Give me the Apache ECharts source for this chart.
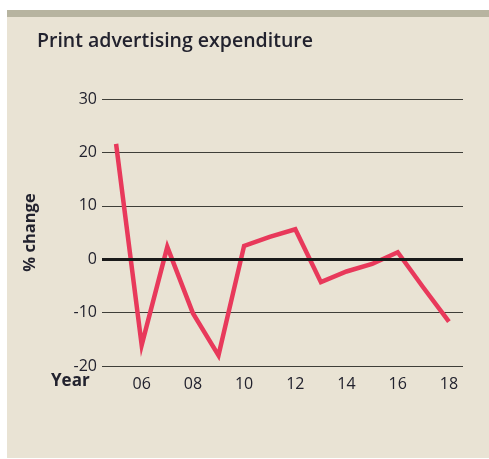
<!DOCTYPE html>
<html>
<head>
<meta charset="utf-8">
<script src="https://cdn.jsdelivr.net/npm/echarts@6/dist/echarts.min.js"></script>
<style>
  html, body { margin: 0; padding: 0; background: #ffffff; }
  #chart { width: 489px; height: 459px; }
</style>
</head>
<body>
<div id="chart"></div>
<script>
// Annual % change in print advertising expenditure
const years = [2005, 2006, 2007, 2008, 2009, 2010, 2011, 2012, 2013, 2014, 2015, 2016, 2017, 2018];
const pctChange = [21.6, -16.1, 2.3, -10.1, -18.0, 2.5, 4.2, 5.6, -4.3, -2.3, -0.9, 1.3, -5.3, -11.7];
const yearTicks = [2006, 2008, 2010, 2012, 2014, 2016, 2018];
const yTicks = { min: -20, max: 30, step: 10 };

const FONT = '"Open Sans", "Noto Sans", sans-serif';
const INK = '#22222e';

const chart = echarts.init(document.getElementById('chart'), null, { renderer: 'canvas' });

chart.setOption({
  animation: false,
  backgroundColor: '#ffffff',
  graphic: [
    { type: 'rect', z: -10, shape: { x: 7, y: 10, width: 482, height: 448 }, style: { fill: '#e9e3d4' } },
    { type: 'rect', z: -9, shape: { x: 7, y: 10, width: 482, height: 7 }, style: { fill: '#b7b4a0' } },
    { type: 'text', left: 37, top: 31, style: { text: 'Print advertising expenditure', font: '600 19.5px ' + FONT, fill: INK } },
    { type: 'text', left: 51, top: 373, style: { text: 'Year', font: 'bold 17px ' + FONT, fill: INK } }
  ],
  grid: { left: 102, right: 26, top: 99, bottom: 93, containLabel: false },
  xAxis: {
    type: 'value',
    min: 2004.45,
    max: 2018.55,
    axisLine: { show: false },
    axisTick: { show: false },
    splitLine: { show: false },
    axisLabel: {
      customValues: yearTicks,
      formatter: v => String(v).slice(2),
      color: INK,
      fontFamily: FONT,
      fontSize: 16,
      fontWeight: 500,
      margin: 10
    }
  },
  yAxis: {
    type: 'value',
    min: yTicks.min,
    max: yTicks.max,
    interval: yTicks.step,
    name: '% change',
    nameLocation: 'middle',
    nameRotate: 90,
    nameGap: 63,
    nameTextStyle: { color: INK, fontFamily: FONT, fontSize: 16.5, fontWeight: 'bold' },
    axisLine: { show: false },
    axisTick: { show: false },
    axisLabel: { color: INK, fontFamily: FONT, fontSize: 16, fontWeight: 500, margin: 5 },
    splitLine: { lineStyle: { color: '#3e3e38', width: 1 } }
  },
  series: [{
    type: 'line',
    data: years.map((y, i) => [y, pctChange[i]]),
    symbol: 'none',
    lineStyle: { color: '#e8395b', width: 4.5, join: 'miter' },
    z: 3,
    markLine: {
      silent: true,
      symbol: 'none',
      label: { show: false },
      lineStyle: { color: '#1a1a1a', width: 3, type: 'solid' },
      data: [{ yAxis: 0 }]
    }
  }]
});
</script>
</body>
</html>
